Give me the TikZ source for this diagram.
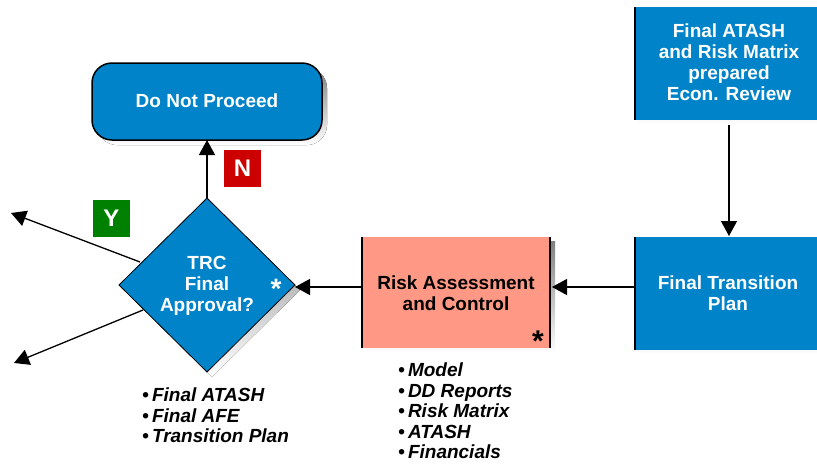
\documentclass[tikz,border=0pt]{standalone}
\usepackage{fontspec}
\setmainfont{Liberation Sans}
\usetikzlibrary{arrows.meta,shapes.geometric}
\definecolor{boxblue}{HTML}{0083C8}
\definecolor{salmon}{HTML}{FF9985}
\definecolor{nred}{HTML}{CC0000}
\definecolor{ygreen}{HTML}{008000}
\definecolor{shade}{HTML}{B8B8B8}
\tikzset{
  conn/.style={draw=black, line width=1.3pt, -{Triangle[length=15pt,width=16pt]}},
  btxt/.style={font=\bfseries\fontsize{19}{21}\selectfont, align=center},
  ltxt/.style={font=\bfseries\itshape\fontsize{19}{20.5}\selectfont, align=left, anchor=north west, inner sep=0pt},
  flag/.style={font=\bfseries\fontsize{24}{24}\selectfont, text=white, minimum width=37pt, minimum height=37pt, inner sep=0pt},
}
\begin{document}
\begin{tikzpicture}[x=1pt,y=-1pt]
\useasboundingbox (0,0) rectangle (817,464);
% Do Not Proceed
\fill[shade] (97,68) [rounded corners=20pt] rectangle (327,145);
\draw[fill=boxblue, line width=1.5pt, rounded corners=20pt] (92,63) rectangle (322,140);
\node[btxt, text=white] (dnp) at (207,101) {Do Not Proceed};
\coordinate (dnpb) at (207,140);
% Diamond
\fill[shade] (212,203) -- (300,290) -- (212,377) -- (124,290) -- cycle;
\draw[fill=boxblue, line width=0.8pt] (207,198) -- (295,285) -- (207,372) -- (119,285) -- cycle;
\node[btxt, text=white] (dia) at (207,286) {TRC\\Final\\Approval?};
\node[font=\bfseries\fontsize{28}{28}\selectfont, text=white] (star1) at (276,289) {*};
\coordinate (diatop) at (207,198);
\coordinate (diaright) at (295,287);
\coordinate (ya) at (140,262);
\coordinate (yb) at (11,213);
\coordinate (na) at (143,310);
\coordinate (nb) at (14,363);
% flags
\node[flag, fill=nred] (N) at (242.5,168.5) {N};
\node[flag, fill=ygreen] (Y) at (111.5,218.5) {Y};
% Risk box
\fill[shade] (366,241) rectangle (555,353);
\fill[salmon] (362,237) rectangle (550,348);
\draw[line width=2pt] (362,237) -- (362,348);
\draw[line width=2pt] (550,237) -- (550,348);
\node[btxt] (risk) at (456,293) {Risk Assessment\\and Control};
\node[font=\bfseries\fontsize{30}{30}\selectfont] (star2) at (538,341) {*};
\coordinate (riskl) at (362,287);
\coordinate (riskr) at (552,287);
% Top box
\fill[shade] (639,11) rectangle (817,125);
\fill[boxblue] (635,7) rectangle (817,120);
\draw[line width=2pt] (635,7) -- (635,120);
\node[btxt, text=white] (top) at (729,62) {Final ATASH\\and Risk Matrix\\prepared\\Econ. Review};
\coordinate (topb) at (729,125);
% Final Transition Plan
\fill[shade] (639,241) rectangle (817,355);
\fill[boxblue] (635,237) rectangle (817,350);
\draw[line width=2pt] (635,237) -- (635,350);
\node[btxt, text=white] (ftp) at (728,293) {Final Transition\\Plan};
\coordinate (ftpt) at (729,236);
\coordinate (ftpl) at (634,287);
% connectors
\draw[conn] (topb) -- (ftpt);
\draw[conn] (ftpl) -- (riskr);
\draw[conn] (riskl) -- (diaright);
\draw[conn] (diatop) -- (dnpb);
\draw[conn] (ya) -- (yb);
\draw[conn] (na) -- (nb);
% lists
\node[ltxt] (l1) at (142,388) {\textbullet\,Final ATASH\\\textbullet\,Final AFE\\\textbullet\,Transition Plan};
\node[ltxt] (l2) at (398,363) {\textbullet\,Model\\\textbullet\,DD Reports\\\textbullet\,Risk Matrix\\\textbullet\,ATASH\\\textbullet\,Financials};
\end{tikzpicture}
\end{document}
